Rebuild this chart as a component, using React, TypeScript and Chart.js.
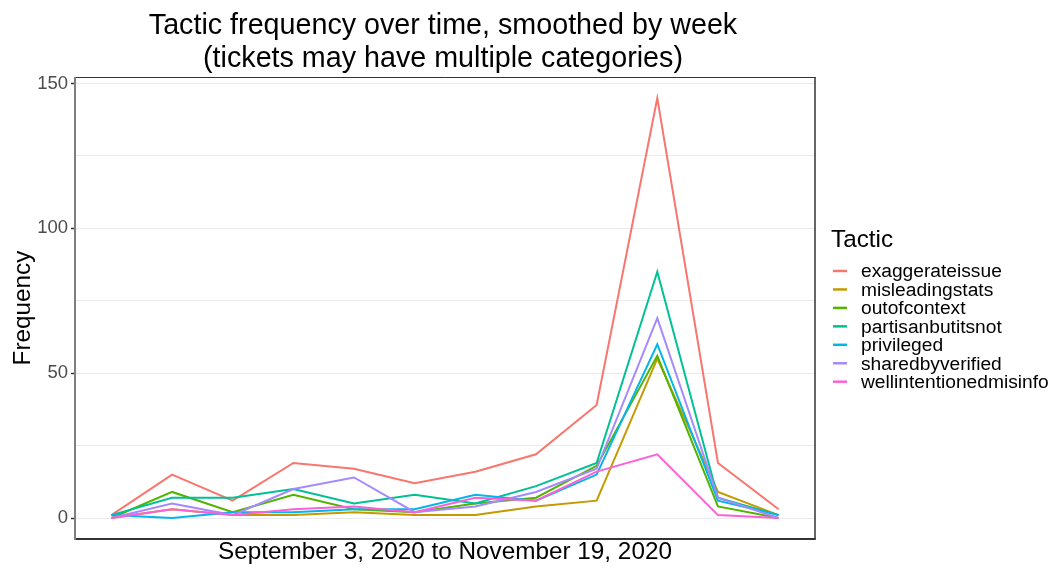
import React, { useEffect, useRef } from 'react';
import { Chart, registerables } from 'chart.js';

Chart.register(...registerables);

// Weekly bins (Sep 3 2020 .. Nov 19 2020)
const weeks = [
  '2020-09-03', '2020-09-10', '2020-09-17', '2020-09-24',
  '2020-10-01', '2020-10-08', '2020-10-15', '2020-10-22',
  '2020-10-29', '2020-11-05', '2020-11-12', '2020-11-19',
];

const tactics = [
  'exaggerateissue',
  'misleadingstats',
  'outofcontext',
  'partisanbutitsnot',
  'privileged',
  'sharedbyverified',
  'wellintentionedmisinfo',
];

const tacticColors = ['#F8766D', '#C49A00', '#53B400', '#00C094', '#00B6EB', '#A58AFF', '#FB61D7'];

const exaggerateissue = [1, 15, 6, 19, 17, 12, 16, 22, 39, 145, 19, 3];
const misleadingstats = [0, 3, 1, 1, 2, 1, 1, 4, 6, 55, 9, 1];
const outofcontext = [0, 9, 2, 8, 3, 2, 5, 7, 18, 56, 4, 0];
const partisanbutitsnot = [1, 7, 7, 10, 5, 8, 5, 11, 19, 85, 7, 1];
const privileged = [1, 0, 2, 2, 3, 3, 8, 6, 15, 60, 6, 1];
const sharedbyverified = [0, 5, 1, 10, 14, 2, 4, 9, 17, 69, 7, 0];
const wellintentionedmisinfo = [0, 3, 1, 3, 4, 2, 7, 6, 16, 22, 1, 0];

const series = [
  exaggerateissue,
  misleadingstats,
  outofcontext,
  partisanbutitsnot,
  privileged,
  sharedbyverified,
  wellintentionedmisinfo,
];

const yTickValues = [0, 25, 50, 75, 100, 125, 150];
const yTickLabels = ['0', '', '50', '', '100', '', '150'];

const titleLines = ['Tactic frequency over time, smoothed by week', '(tickets may have multiple categories)'];
const xAxisTitle = 'September 3, 2020 to November 19, 2020';
const yAxisTitle = 'Frequency';
const legendTitle = 'Tactic';

const FONT = '"Liberation Sans", Arial, Helvetica, sans-serif';

const decorPlugin = {
  id: 'decor',
  afterDraw(chart: any) {
    const { ctx, chartArea: a } = chart;
    ctx.save();
    // panel border
    ctx.strokeStyle = '#333333';
    ctx.lineWidth = 1;
    ctx.beginPath();
    ctx.moveTo(a.left, a.top + 0.5);
    ctx.lineTo(a.right + 0.5, a.top + 0.5);
    ctx.stroke();
    ctx.lineWidth = 1.5;
    ctx.beginPath();
    ctx.moveTo(a.right, a.top);
    ctx.lineTo(a.right, a.bottom);
    ctx.stroke();
    ctx.lineWidth = 2;
    ctx.beginPath();
    ctx.moveTo(a.left, a.bottom);
    ctx.lineTo(a.right + 0.75, a.bottom);
    ctx.stroke();
    ctx.strokeStyle = '#7F7F7F';
    ctx.beginPath();
    ctx.moveTo(a.left, a.top);
    ctx.lineTo(a.left, a.bottom + 1);
    ctx.stroke();

    const cx = (a.left + a.right) / 2;
    // title
    ctx.fillStyle = '#000000';
    ctx.textAlign = 'center';
    ctx.textBaseline = 'alphabetic';
    ctx.font = `28.7px ${FONT}`;
    ctx.fillText(titleLines[0], cx - 2, 34);
    ctx.fillText(titleLines[1], cx - 2, 67);

    // x axis title
    ctx.font = `24.3px ${FONT}`;
    ctx.fillText(xAxisTitle, cx, 559);

    // y axis title
    ctx.save();
    ctx.translate(30, (a.top + a.bottom) / 2);
    ctx.rotate(-Math.PI / 2);
    ctx.fillText(yAxisTitle, 0, 0);
    ctx.restore();

    // legend
    ctx.textAlign = 'left';
    ctx.font = `24.3px ${FONT}`;
    ctx.fillText(legendTitle, 831, 247);
    ctx.font = `19.2px ${FONT}`;
    ctx.textBaseline = 'middle';
    chart.data.datasets.forEach((ds: any, i: number) => {
      const y = 271 + i * 18.45;
      ctx.strokeStyle = ds.borderColor;
      ctx.lineWidth = 2.5;
      ctx.beginPath();
      ctx.moveTo(833, y);
      ctx.lineTo(847, y);
      ctx.stroke();
      ctx.fillStyle = '#000000';
      ctx.fillText(ds.label, 861, y + 1);
    });
    ctx.restore();
  },
};

export default function App() {
  const canvasRef = useRef<HTMLCanvasElement | null>(null);

  useEffect(() => {
    document.body.style.margin = '0';
    const canvas = canvasRef.current;
    if (!canvas) return;
    const chart = new Chart(canvas, {
      type: 'line',
      data: {
        datasets: tactics.map((name, i) => ({
          label: name,
          data: series[i].map((v, j) => ({ x: j, y: v, week: weeks[j] })),
          borderColor: tacticColors[i],
          backgroundColor: tacticColors[i],
          borderWidth: 2,
          pointRadius: 0,
          tension: 0,
          fill: false,
          order: tactics.length - i,
        })),
      },
      options: {
        animation: false,
        responsive: false,
        devicePixelRatio: 1,
        layout: { padding: { top: 77, right: 239, bottom: 0, left: 0 } },
        plugins: {
          legend: { display: false },
          title: { display: false },
          tooltip: { enabled: false },
        },
        scales: {
          x: {
            type: 'linear',
            min: -0.6,
            max: weeks.length - 1 + 0.6,
            grid: { display: false },
            border: { display: false },
            ticks: { display: false },
            afterFit: (scale: any) => {
              scale.height = 29;
            },
          },
          y: {
            type: 'linear',
            min: -7.25,
            max: 152.25,
            afterBuildTicks: (scale: any) => {
              scale.ticks = yTickValues.map((v) => ({ value: v }));
            },
            afterFit: (scale: any) => {
              scale.width = 75;
            },
            border: { display: false },
            grid: {
              color: '#EBEBEB',
              lineWidth: 1,
              drawTicks: true,
              tickLength: 4,
              tickWidth: 1.5,
              tickColor: (ctx: any) => (ctx.tick && ctx.tick.value % 50 === 0 ? '#333333' : 'rgba(0,0,0,0)'),
            },
            ticks: {
              padding: 3,
              color: '#4D4D4D',
              font: { family: FONT, size: 18.5 },
              callback: (_v: any, index: number) => yTickLabels[index],
            },
          },
        },
      },
      plugins: [decorPlugin],
    } as any);
    return () => chart.destroy();
  }, []);

  return (
    <div style={{ position: 'fixed', left: 0, top: 0, width: 1054, height: 568, background: '#ffffff' }}>
      <canvas ref={canvasRef} width={1054} height={568} style={{ width: 1054, height: 568 }} />
    </div>
  );
}
